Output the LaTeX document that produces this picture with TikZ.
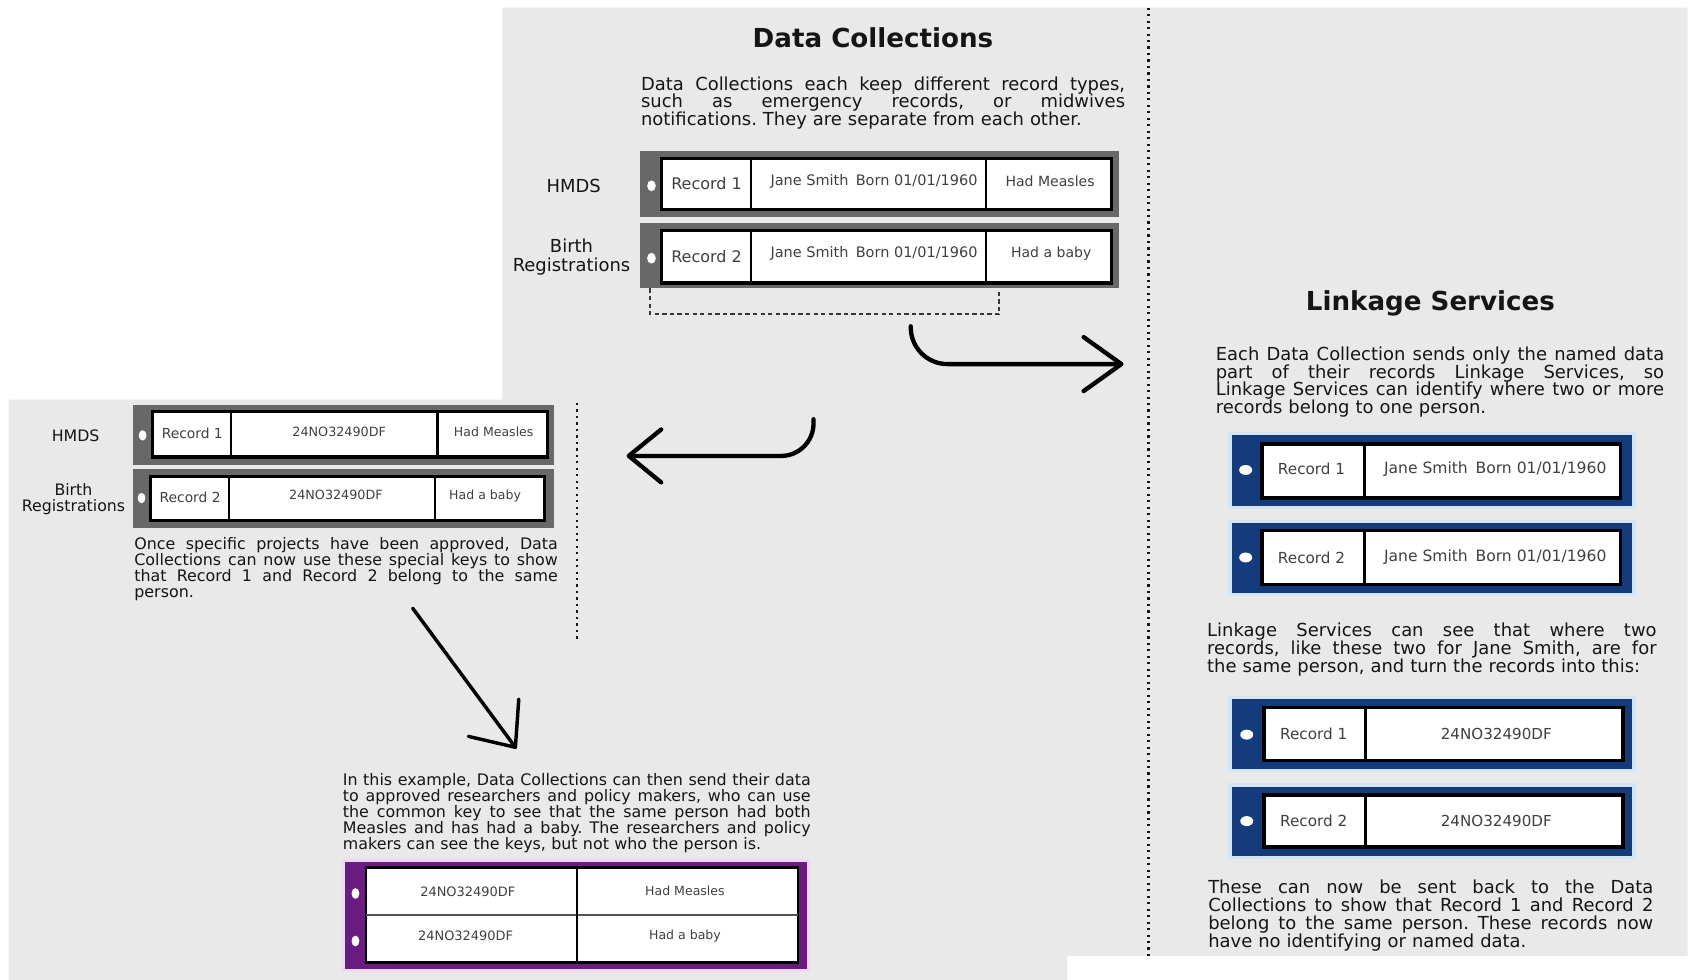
\documentclass[tikz,border=0pt]{standalone}
\usepackage{fontspec}
\setmainfont{DejaVu Sans}
\usetikzlibrary{arrows.meta}
\definecolor{bg}{HTML}{E9E9E9}
\definecolor{gfr}{HTML}{686868}
\definecolor{navy}{HTML}{143C7C}
\definecolor{halob}{HTML}{D3E4F4}
\definecolor{plum}{HTML}{6A1D80}
\definecolor{halop}{HTML}{EED8F2}
\definecolor{celltext}{HTML}{404040}
\definecolor{ink}{HTML}{151515}
\newcommand\fsz[1]{\fontsize{#1pt}{#1pt}\selectfont}
\newcommand\jl[2]{\makebox[#1][s]{\spaceskip=0pt\xspaceskip=0pt\relax #2}}
\newcommand\pfA{\fontsize{8.3pt}{8.25pt}\selectfont\lineskiplimit=-20pt\frenchspacing}
\newcommand\pfB{\fontsize{7.35pt}{7.5pt}\selectfont\lineskiplimit=-20pt\frenchspacing}
\newcommand\pfC{\fontsize{7.35pt}{7.4pt}\selectfont\lineskiplimit=-20pt\frenchspacing}
\newcommand\firstl{\rule{0pt}{1em}}
\tikzset{
  cellbox/.style={fill=white, draw=black, line width=1.5pt},
  sepline/.style={draw=black, line width=1pt},
  septhick/.style={draw=black, line width=1.5pt},
  celltxt/.style={text=celltext, inner sep=0pt},
  para/.style={inner sep=0pt, anchor=north west, align=left, text=ink},
  lab/.style={align=center, inner sep=0pt, text=ink},
  ttl/.style={font=\fontsize{12.1pt}{14pt}\selectfont\bfseries, inner sep=0pt, text=ink},
  flow/.style={line width=2pt, line cap=round, line join=round},
  divider/.style={line width=1.1pt, dash pattern=on 1pt off 2pt, draw=ink},
  bracket/.style={line width=0.9pt, dash pattern=on 2pt off 1.5pt, draw=ink!85},
}
\begin{document}
\begin{tikzpicture}[x=0.5pt,y=-0.5pt]
\useasboundingbox (0,0) rectangle (1568,907);
\fill[white] (0,0) rectangle (1568,907);
\fill[bg] (465,7) -- (1562,7) -- (1562,885) -- (988,885) -- (988,907) -- (8,907) -- (8,370) -- (465,370) -- cycle;

% dotted dividers
\draw[divider] (1063,7) -- (1063,885);
\draw[divider] (534,373) -- (534,593);

% titles
\node[ttl] (dctitle) at (808,35) {Data Collections};
\node[ttl] (lstitle) at (1324,281) {Linkage Services};

% paragraphs
\node[para, font=\pfA, text width=224pt] (dcpara) at (593,66.4) {\firstl\jl{224pt}{Data Collections each keep different record types,}\\
\jl{224pt}{such as emergency records, or midwives}\\
notifications. They are separate from each other.};

\node[para, font=\pfA, text width=207.5pt] (lspara1) at (1125,316.4) {\firstl\jl{207.5pt}{Each Data Collection sends only the named data}\\
\jl{207.5pt}{part of their records Linkage Services, so}\\
\jl{207.5pt}{Linkage Services can identify where two or more}\\
records belong to one person.};

\node[para, font=\pfA, text width=208pt] (lspara2) at (1117,572.4) {\firstl\jl{208pt}{Linkage Services can see that where two}\\
\jl{208pt}{records, like these two for Jane Smith, are for}\\
the same person, and turn the records into this:};

\node[para, font=\pfA, text width=206pt] (lspara3) at (1118,810.4) {\firstl\jl{206pt}{These can now be sent back to the Data}\\
\jl{206pt}{Collections to show that Record 1 and Record 2}\\
\jl{206pt}{belong to the same person. These records now}\\
have no identifying or named data.};

\node[para, font=\pfB, text width=196pt] (keypara) at (124,493.3) {\firstl\jl{196pt}{Once specific projects have been approved, Data}\\
\jl{196pt}{Collections can now use these special keys to show}\\
\jl{196pt}{that Record 1 and Record 2 belong to the same}\\
person.};

\node[para, font=\pfC, text width=216.5pt] (respara) at (317,712.3) {\firstl\jl{216.5pt}{In this example, Data Collections can then send their data}\\
\jl{216.5pt}{to approved researchers and policy makers, who can use}\\
\jl{216.5pt}{the common key to see that the same person had both}\\
\jl{216.5pt}{Measles and has had a baby. The researchers and policy}\\
makers can see the keys, but not who the person is.};

% labels
\node[lab, font=\fsz{8.3}] (hmdsA) at (531,172) {HMDS};
\node[lab, font=\fontsize{8.3pt}{8.5pt}\selectfont] (birthA) at (529,238) {Birth\\Registrations};
\node[lab, font=\fsz{7.3}] (hmdsB) at (70,403) {HMDS};
\node[lab, font=\fontsize{7.3pt}{7.5pt}\selectfont] (birthB) at (68,462) {Birth\\Registrations};

% ---- Data Collections records (grey)
\fill[gfr] (592,140) rectangle (1036,201);
\draw[cellbox] (612,147) rectangle (1029,194);
\draw[sepline] (695,147) -- (695,194) (913,147) -- (913,194);
\fill[white] (603,172) ellipse [x radius=2pt, y radius=2.5pt];
\node[celltxt, font=\fsz{7.4}] (dc1a) at (654,170) {Record 1};
\node[celltxt, font=\fsz{6.7}] (dc1b) at (809,168) {Jane Smith\enspace Born 01/01/1960};
\node[celltxt, font=\fsz{6.5}] (dc1c) at (972,168) {Had Measles};

\fill[gfr] (592,206) rectangle (1036,267);
\draw[cellbox] (612,213) rectangle (1029,262);
\draw[sepline] (695,213) -- (695,262) (913,213) -- (913,262);
\fill[white] (603,239) ellipse [x radius=2pt, y radius=2.5pt];
\node[celltxt, font=\fsz{7.4}] (dc2a) at (654,237) {Record 2};
\node[celltxt, font=\fsz{6.7}] (dc2b) at (809,235) {Jane Smith\enspace Born 01/01/1960};
\node[celltxt, font=\fsz{6.5}] (dc2c) at (973,235) {Had a baby};

% dashed bracket
\draw[bracket] (602,267) -- (602,291) -- (925,291) -- (925,267);

% ---- left panel keyed records (grey)
\fill[gfr] (123,375) rectangle (513,430);
\draw[cellbox] (141,381) rectangle (507,423);
\draw[sepline] (214,381) -- (214,423) (405,381) -- (405,423);
\fill[white] (132,403) ellipse [x radius=1.8pt, y radius=2.4pt];
\node[celltxt, font=\fsz{6.4}] (kr1a) at (178,401) {Record 1};
\node[celltxt, font=\fsz{5.9}] (kr1b) at (314,400) {24NO32490DF};
\node[celltxt, font=\fsz{5.8}] (kr1c) at (457,400) {Had Measles};

\fill[gfr] (123,434) rectangle (513,489);
\draw[cellbox] (139,441) rectangle (504,482);
\draw[sepline] (212,441) -- (212,482) (403,441) -- (403,482);
\fill[white] (131,461) ellipse [x radius=1.8pt, y radius=2.4pt];
\node[celltxt, font=\fsz{6.4}] (kr2a) at (176,460) {Record 2};
\node[celltxt, font=\fsz{5.9}] (kr2b) at (311,458) {24NO32490DF};
\node[celltxt, font=\fsz{5.8}] (kr2c) at (449,459) {Had a baby};

% ---- Linkage Services records (blue)
\fill[halob] (1137,400) rectangle (1514,471);
\fill[navy] (1140,403) rectangle (1511,468);
\draw[cellbox, line width=1.7pt] (1168,411) rectangle (1500,461);
\draw[septhick] (1263,411) -- (1263,461);
\fill[white] (1153,435) ellipse [x radius=3pt, y radius=2.3pt];
\node[celltxt, font=\fsz{7.05}] (ls1a) at (1214,434) {Record 1};
\node[celltxt, font=\fsz{7.2}] (ls1b) at (1384,434) {Jane Smith\enspace Born 01/01/1960};

\fill[halob] (1137,481) rectangle (1514,552);
\fill[navy] (1140,484) rectangle (1511,549);
\draw[cellbox, line width=1.7pt] (1168,491) rectangle (1500,541);
\draw[septhick] (1263,491) -- (1263,541);
\fill[white] (1153,516) ellipse [x radius=3pt, y radius=2.3pt];
\node[celltxt, font=\fsz{7.05}] (ls2a) at (1214,516) {Record 2};
\node[celltxt, font=\fsz{7.2}] (ls2b) at (1384,516) {Jane Smith\enspace Born 01/01/1960};

\fill[halob] (1137,644) rectangle (1514,715);
\fill[navy] (1140,647) rectangle (1511,712);
\draw[cellbox, line width=1.7pt] (1170,655) rectangle (1502,704);
\draw[septhick] (1264,655) -- (1264,704);
\fill[white] (1154,680) ellipse [x radius=3pt, y radius=2.3pt];
\node[celltxt, font=\fsz{7.05}] (ls3a) at (1216,679) {Record 1};
\node[celltxt, font=\fsz{7.0}] (ls3b) at (1385,679) {24NO32490DF};

\fill[halob] (1137,725) rectangle (1514,795);
\fill[navy] (1140,728) rectangle (1511,792);
\draw[cellbox, line width=1.7pt] (1170,736) rectangle (1502,784);
\draw[septhick] (1264,736) -- (1264,784);
\fill[white] (1154,760) ellipse [x radius=3pt, y radius=2.3pt];
\node[celltxt, font=\fsz{7.05}] (ls4a) at (1216,760) {Record 2};
\node[celltxt, font=\fsz{7.0}] (ls4b) at (1385,760) {24NO32490DF};

% ---- researchers table (purple)
\fill[halop] (316,795) rectangle (750,900);
\fill[plum] (319,798) rectangle (747,897);
\fill[white] (339,803) rectangle (739,891);
\draw[black, line width=1pt] (339,803) rectangle (739,891);
\draw[black, line width=1.5pt] (339,891) -- (739,891);
\draw[gfr!80!black, line width=1pt] (339,847) -- (739,847);
\draw[sepline] (534,803) -- (534,891);
\fill[white] (329,827) ellipse [x radius=1.8pt, y radius=2.5pt];
\fill[white] (329,871) ellipse [x radius=1.8pt, y radius=2.5pt];
\node[celltxt, font=\fsz{6.0}] (rt1a) at (433,825) {24NO32490DF};
\node[celltxt, font=\fsz{5.8}] (rt1b) at (634,825) {Had Measles};
\node[celltxt, font=\fsz{6.0}] (rt2a) at (431,866) {24NO32490DF};
\node[celltxt, font=\fsz{5.8}] (rt2b) at (634,866) {Had a baby};

% ---- arrows
\coordinate (a1s) at (843,302);
\coordinate (a1e) at (1040,337);
\draw[flow, rounded corners=17pt, -{Straight Barb[length=17.5pt, width=25pt, round]}] (a1s) |- (a1e);
\coordinate (a2s) at (753,388);
\coordinate (a2e) at (580,422);
\draw[flow, rounded corners=15pt, -{Straight Barb[length=15pt, width=24.5pt, round]}] (a2s) |- (a2e);
\coordinate (a3s) at (382,563);
\coordinate (a3e) at (478,693);
\draw[flow, line width=1.6pt, -{Straight Barb[length=17pt, width=29pt, round]}] (a3s) -- (a3e);
\end{tikzpicture}
\end{document}
